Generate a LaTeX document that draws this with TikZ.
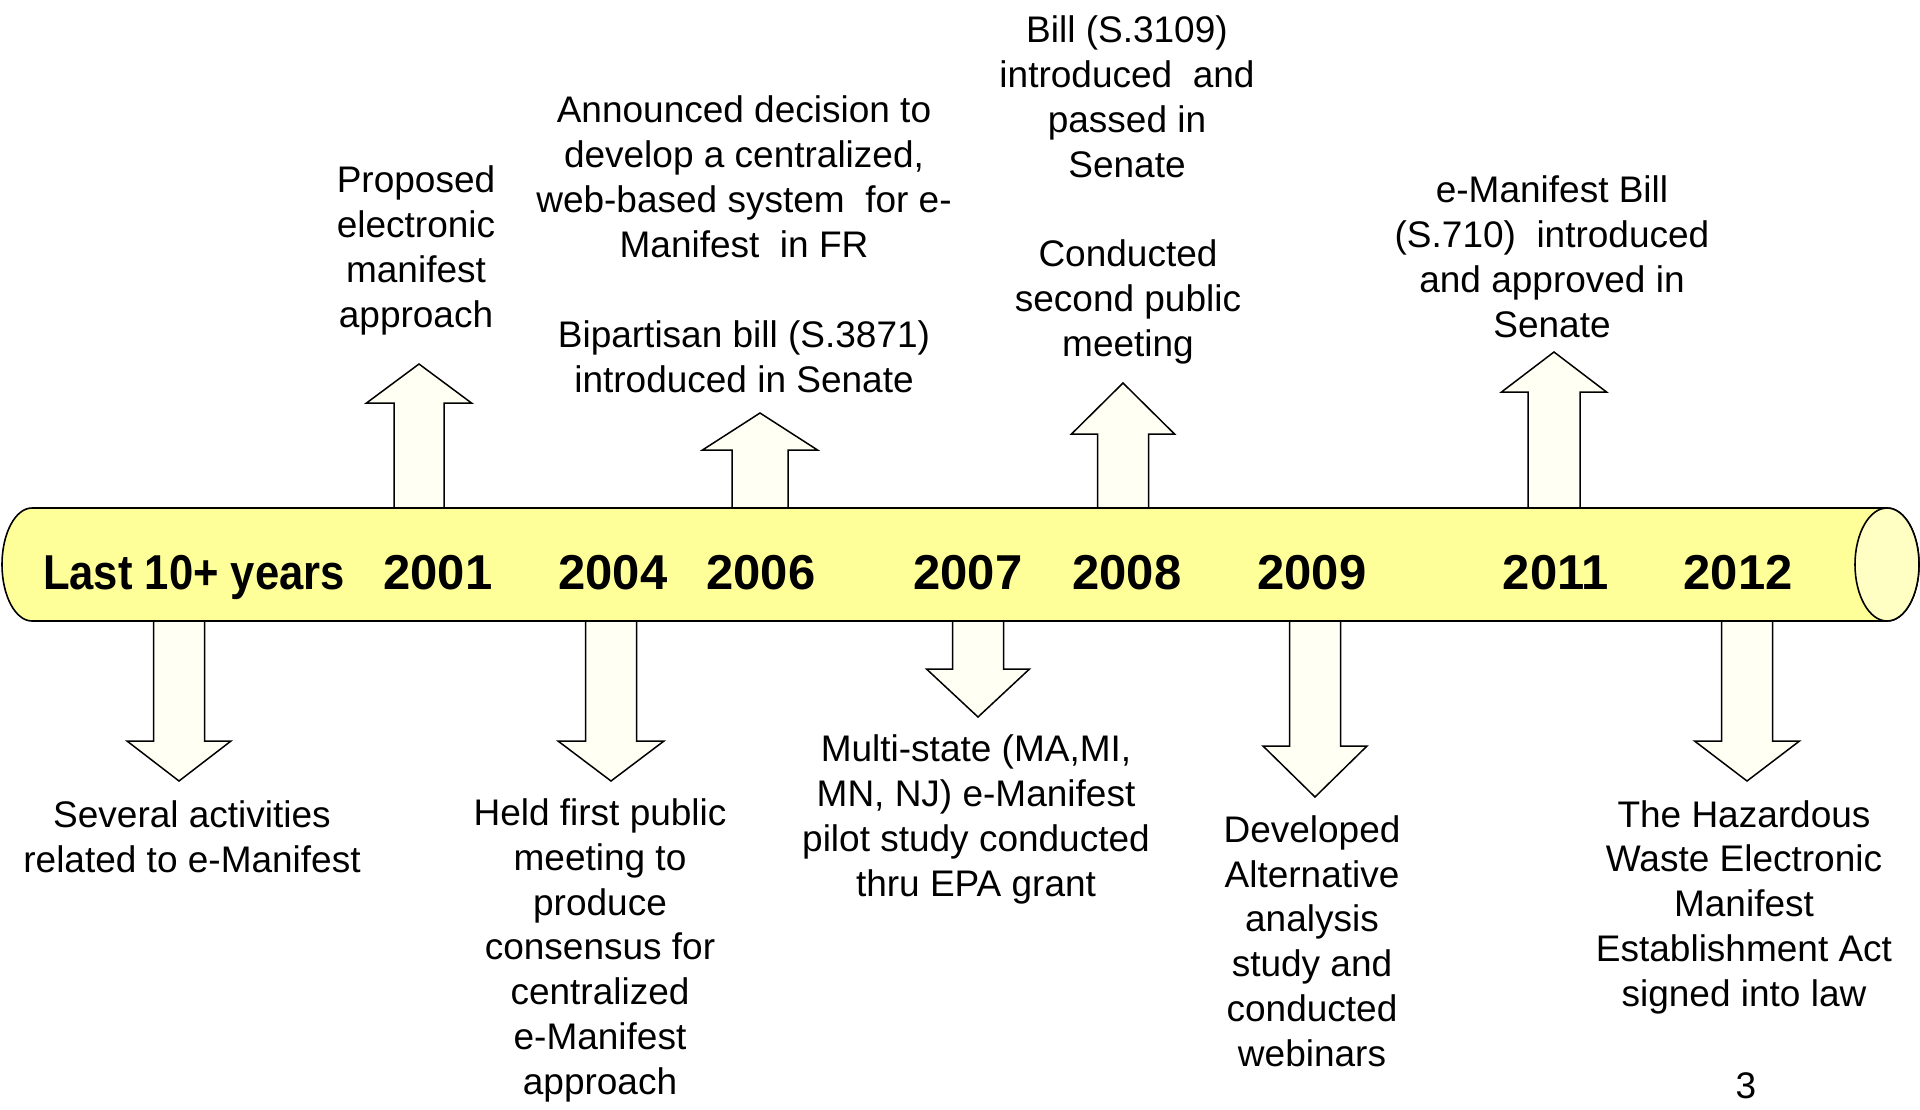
\documentclass[tikz,border=0pt]{standalone}
\usepackage{fontspec}
\setmainfont{Liberation Sans}
\usepackage{graphicx}
\definecolor{tubefill}{RGB}{255,255,153}
\definecolor{capfill}{RGB}{255,255,196}
\definecolor{arrfill}{RGB}{255,255,244}
\newcommand{\blockarrow}[6]{% cx, shaft half, head half, tip y, head y, base y
  \draw[blockarr] ({#1-#2},#6) -- ({#1-#2},#5) -- ({#1-#3},#5) -- (#1,#4)
    -- ({#1+#3},#5) -- ({#1+#2},#5) -- ({#1+#2},#6) -- cycle;}
\begin{document}
\begin{tikzpicture}[x=1pt,y=-1pt,
  blockarr/.style={draw=black,line width=1.5pt,fill=arrfill,line join=miter},
  tube/.style={draw=black,line width=1.6pt},
  txt/.style={font=\fontsize{37}{44.7}\selectfont,align=center,anchor=base,inner sep=0pt},
  yr/.style={font=\fontsize{49}{56}\selectfont\bfseries,anchor=base,inner sep=0pt}]
\useasboundingbox (0,0) rectangle (1920,1109);
\fill[white] (0,0) rectangle (1920,1109);

% block arrows (up)
\blockarrow{419}{25}{52.5}{364}{403}{560}
\blockarrow{760}{28}{57.5}{413}{450}{560}
\blockarrow{1123}{25.5}{51.5}{383}{434}{560}
\blockarrow{1554}{26}{52.5}{352}{392}{560}
% block arrows (down)
\blockarrow{179}{25.5}{52}{781}{741}{560}
\blockarrow{611}{25.5}{53}{781}{741}{560}
\blockarrow{978}{25.5}{51.5}{717}{669}{560}
\blockarrow{1315}{25.5}{52}{797}{746}{560}
\blockarrow{1747}{25.5}{52.5}{781}{741}{560}

% timeline tube
\draw[tube,fill=tubefill] (32,508) -- (1887,508)
  arc[start angle=-90,end angle=90,x radius=32,y radius=56.5]
  -- (32,621) arc[start angle=90,end angle=270,x radius=30,y radius=56.5] -- cycle;
\draw[tube,fill=capfill] (1887,564.5) ellipse [x radius=32,y radius=56.5];

% years
\node[yr] (ylast) at (194,589) {\scalebox{0.89}[1]{Last 10+ years}};
\node[yr] (y2001) at (438,589) {2001};
\node[yr] (y2004) at (613,589) {2004};
\node[yr] (y2006) at (761,589) {2006};
\node[yr] (y2007) at (968,589) {2007};
\node[yr] (y2008) at (1127,589) {2008};
\node[yr] (y2009) at (1312,589) {2009};
\node[yr] (y2011) at (1556,589) {2011};
\node[yr] (y2012) at (1738,589) {2012};

% texts above (anchor = baseline of last line)
\node[txt] (t2001) at (416,327) {Proposed\\electronic\\manifest\\approach};
\node[txt] (t2006a) at (744,257) {Announced decision to\\develop a centralized,\\web-based system\ \ for e-\\Manifest\ \ in FR};
\node[txt] (t2006b) at (744,392) {Bipartisan bill (S.3871)\\introduced in Senate};
\node[txt] (t2008a) at (1127,177) {Bill (S.3109)\\introduced\ \ and\\passed in\\Senate};
\node[txt] (t2008b) at (1128,356) {Conducted\\second public\\meeting};
\node[txt] (t2011) at (1552,337) {e-Manifest Bill\\(S.710)\ \ introduced\\and approved in\\Senate};

% texts below
\node[txt] (tlast) at (192,872) {Several activities\\related to e-Manifest};
\node[txt] (t2004) at (600,1094) {Held first public\\meeting to\\produce\\consensus for\\centralized\\e-Manifest\\approach};
\node[txt] (t2007) at (976,896) {Multi-state (MA,MI,\\MN, NJ) e-Manifest\\pilot study conducted\\thru EPA grant};
\node[txt] (t2009) at (1312,1066) {Developed\\Alternative\\analysis\\study and\\conducted\\webinars};
\node[txt] (t2012) at (1744,1006) {The Hazardous\\Waste Electronic\\Manifest\\Establishment Act\\signed into law};
\node[txt] (page) at (1746,1098) {3};
\end{tikzpicture}
\end{document}
